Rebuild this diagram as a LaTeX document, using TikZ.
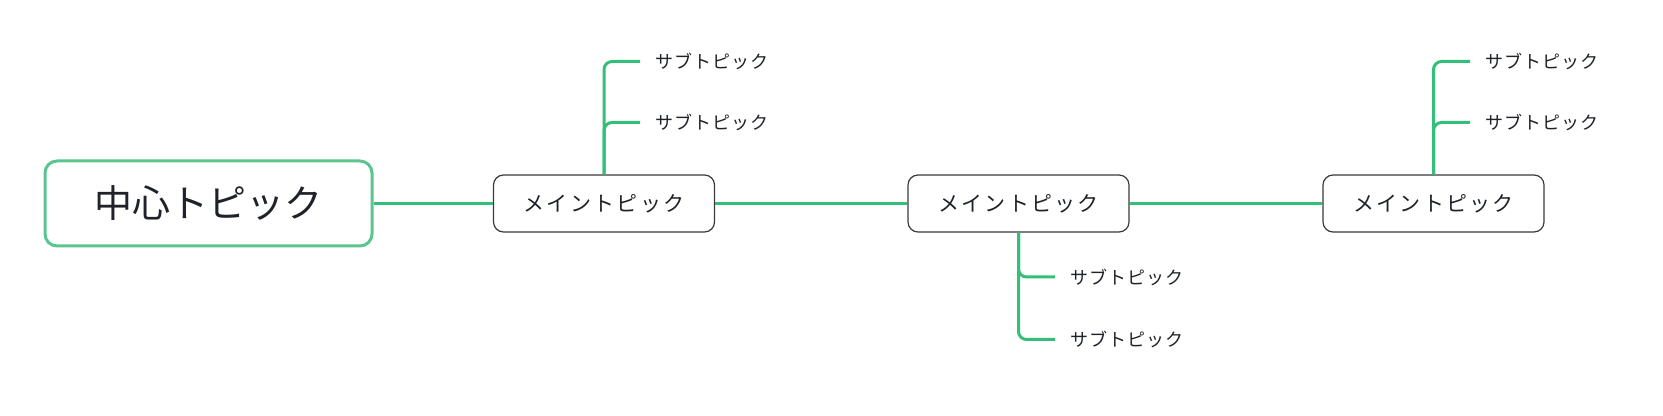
\documentclass[tikz,border=0pt]{standalone}
\usepackage{fontspec}
\setmainfont{Noto Sans CJK JP}
\usetikzlibrary{positioning}
\definecolor{line}{HTML}{33BF77}
\definecolor{rootedge}{HTML}{5BC590}
\definecolor{edge}{HTML}{3A3A3A}
\definecolor{ink}{HTML}{1F2329}
\tikzset{
  root/.style={draw=rootedge, line width=1.5pt, rounded corners=6pt, fill=white, text=ink,
    minimum width=163.5pt, minimum height=42.5pt, font=\fontsize{19}{21}\selectfont},
  main/.style={draw=edge, line width=0.6pt, rounded corners=5pt, fill=white, text=ink,
    minimum width=110.5pt, minimum height=28.5pt, font=\fontsize{10.5}{12}\selectfont\addfontfeature{LetterSpace=11}},
  sub/.style={anchor=west, inner xsep=7.5pt, inner ysep=1pt, text=ink,
    font=\fontsize{9}{10}\selectfont\addfontfeature{LetterSpace=6}},
  br/.style={draw=line, line width=1.5pt, rounded corners=4pt},
}
\begin{document}
\begin{tikzpicture}[x=0.5pt, y=-0.5pt]
\useasboundingbox (0,0) rectangle (1663,416);
\node[root] (root) at (208.5,203.5) {中心トピック};
\node[main] (m1) at (604,203.5) {メイントピック};
\node[main] (m2) at (1018.5,203.5) {メイントピック};
\node[main] (m3) at (1433.5,203.5) {メイントピック};
\node[sub] (s11) at (640,61.5) {サブトピック};
\node[sub] (s12) at (640,122.5) {サブトピック};
\node[sub] (s21) at (1055,277) {サブトピック};
\node[sub] (s22) at (1055,339.5) {サブトピック};
\node[sub] (s31) at (1470,61.5) {サブトピック};
\node[sub] (s32) at (1470,122.5) {サブトピック};

\draw[br] (root) -- (m1);
\draw[br] (m1) -- (m2);
\draw[br] (m2) -- (m3);
\draw[br] (m1.north) |- (s11.west);
\draw[br] (m1.north) |- (s12.west);
\draw[br] (m2.south) |- (s21.west);
\draw[br] (m2.south) |- (s22.west);
\draw[br] (m3.north) |- (s31.west);
\draw[br] (m3.north) |- (s32.west);
\end{tikzpicture}
\end{document}
